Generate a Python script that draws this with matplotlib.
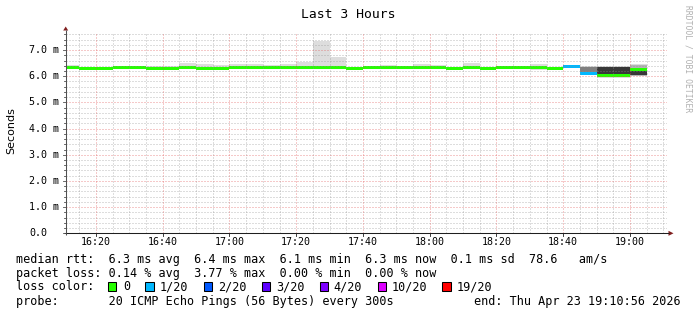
import matplotlib
matplotlib.use('Agg')
import matplotlib.pyplot as plt
import numpy as np
from matplotlib.patches import Rectangle, Polygon

# ---------------- data ----------------
bin_start = ["16:10", "16:15", "16:20", "16:25", "16:30", "16:35", "16:40", "16:45",
             "16:50", "16:55", "17:00", "17:05", "17:10", "17:15", "17:20", "17:25",
             "17:30", "17:35", "17:40", "17:45", "17:50", "17:55", "18:00", "18:05",
             "18:10", "18:15", "18:20", "18:25", "18:30", "18:35", "18:40", "18:45",
             "18:50", "18:55", "19:00"]
median_ms = [6.35, 6.31, 6.31, 6.35, 6.35, 6.31, 6.31, 6.35, 6.31, 6.31,
             6.35, 6.35, 6.35, 6.35, 6.35, 6.35, 6.35, 6.31, 6.35, 6.35,
             6.35, 6.35, 6.35, 6.31, 6.35, 6.31, 6.35, 6.35, 6.35, 6.31,
             6.36, 6.10, 6.04, 6.03, 6.27]
loss_pings = [0, 0, 0, 0, 0, 0, 0, 0, 0, 0,
              0, 0, 0, 0, 0, 0, 0, 0, 0, 0,
              0, 0, 0, 0, 0, 0, 0, 0, 0, 0,
              1, 1, 0, 0, 0]
smoke_lo = [6.32, 6.28, 6.28, 6.32, 6.32, 6.28, 6.28, 6.32, 6.28, 6.28,
            6.32, 6.32, 6.32, 6.32, 6.32, 6.32, 6.32, 6.28, 6.32, 6.32,
            6.32, 6.32, 6.32, 6.28, 6.32, 6.28, 6.32, 6.32, 6.23, 6.28,
            6.33, 6.03, 5.95, 5.95, 5.99]
smoke_hi = [6.41, 6.34, 6.34, 6.38, 6.38, 6.40, 6.40, 6.51, 6.45, 6.44,
            6.47, 6.46, 6.42, 6.48, 6.53, 7.36, 6.75, 6.34, 6.38, 6.43,
            6.38, 6.47, 6.43, 6.34, 6.51, 6.34, 6.38, 6.38, 6.48, 6.34,
            6.38, 6.38, 6.39, 6.39, 6.46]
mid_lo = [np.nan] * 31 + [6.08, np.nan, np.nan, 6.02]
mid_hi = [np.nan] * 31 + [6.35, np.nan, np.nan, 6.42]
inner_lo = [np.nan] * 32 + [6.00, 6.00, 6.04]
inner_hi = [np.nan] * 32 + [6.35, 6.35, 6.30]

loss_labels = ["0", "1/20", "2/20", "3/20", "4/20", "10/20", "19/20"]
loss_thresh = [0, 1, 2, 3, 4, 10, 19]
loss_colors = ["#26ff00", "#00b8ff", "#0059ff", "#5e00ff", "#7e00ff", "#dd00ff", "#ff0000"]

x_tick_labels = ["16:20", "16:40", "17:00", "17:20", "17:40", "18:00", "18:20", "18:40", "19:00"]
y_ticks = [0, 1, 2, 3, 4, 5, 6, 7]
y_tick_labels = ["0.0", "1.0 m", "2.0 m", "3.0 m", "4.0 m", "5.0 m", "6.0 m", "7.0 m"]

t_start = "16:10:56"
t_end = "19:10:56"

row_median = "median rtt:  6.3 ms avg  6.4 ms max  6.1 ms min  6.3 ms now  0.1 ms sd  78.6   am/s"
row_loss = "packet loss: 0.14 % avg  3.77 % max  0.00 % min  0.00 % now"
row_probe = "probe:       20 ICMP Echo Pings (56 Bytes) every 300s"
row_end = "end: Thu Apr 23 19:10:56 2026"
title = "Last 3 Hours"
ylabel = "Seconds"
watermark = "RRDTOOL / TOBI OETIKER"

# ---------------- helpers ----------------
def tmin(s):
    p = [int(v) for v in s.split(":")]
    sec = p[2] if len(p) > 2 else 0
    return p[0] * 60 + p[1] + sec / 60.0 - 16 * 60

W, H, DPI = 697, 315, 100
MONO = "DejaVu Sans Mono"

fig = plt.figure(figsize=(W / DPI, H / DPI), dpi=DPI, facecolor="white")
L, R, T, B = 65.7, 666.5, 33.3, 233.3
ax = fig.add_axes([L / W, (H - B) / H, (R - L) / W, (B - T) / H])
ax.set_facecolor("white")
x0, x1 = tmin(t_start), tmin(t_end)
ymax = 7.64
ax.set_xlim(x0, x1)
ax.set_ylim(0, ymax)
for s in ax.spines.values():
    s.set_visible(False)
ax.set_xticks([])
ax.set_yticks([])

xs = np.array([tmin(s) for s in bin_start])
med = np.array(median_ms)
lo = np.array(smoke_lo)
hi = np.array(smoke_hi)

# smoke
ax.bar(xs, hi - lo, bottom=lo, width=5, align="edge", color="#dddddd", linewidth=0, zorder=1)
mlo, mhi = np.array(mid_lo), np.array(mid_hi)
ok = ~np.isnan(mlo)
ax.bar(xs[ok], (mhi - mlo)[ok], bottom=mlo[ok], width=5, align="edge",
       color=["#808080", "#b4b4b4"], linewidth=0, zorder=1.2)
ilo, ihi = np.array(inner_lo), np.array(inner_hi)
ok = ~np.isnan(ilo)
ax.bar(xs[ok], (ihi - ilo)[ok], bottom=ilo[ok], width=5, align="edge",
       color="#383838", linewidth=0, zorder=1.4)

# median band coloured by loss
sw = 0.055
cols = []
for lp in loss_pings:
    c = loss_colors[0]
    for th, cc in zip(loss_thresh, loss_colors):
        if lp >= th:
            c = cc
    cols.append(c)
ax.bar(xs, 2 * sw, bottom=med - sw, width=5, align="edge", color=cols, linewidth=0, zorder=2)

# grid (drawn on top, like rrdtool)
minor_c = (0.56, 0.56, 0.56, 0.6)
major_c = (0.87, 0.31, 0.31, 0.6)
dash = (0, (1.0, 2.0))
for k in range(1, int(ymax / 0.2) + 1):
    v = k * 0.2
    if abs(v - round(v)) < 1e-6:
        continue
    ax.axhline(v, color=minor_c, lw=0.72, ls=dash, zorder=3)
for v in y_ticks[1:]:
    ax.axhline(v, color=major_c, lw=0.72, ls=dash, zorder=3.1)
t = 16 * 60 + 15 - 16 * 60
while t < x1:
    if t > x0:
        if t % 20 == 0:
            ax.axvline(t, color=major_c, lw=0.72, ls=dash, zorder=3.1)
        else:
            ax.axvline(t, color=minor_c, lw=0.72, ls=dash, zorder=3)
    t += 5

# ---------------- overlay in pixel coords ----------------
ov = fig.add_axes([0, 0, 1, 1], zorder=10)
ov.set_xlim(0, W)
ov.set_ylim(H, 0)
ov.axis("off")
ov.patch.set_alpha(0)

def ypix(v):
    return B - v / ymax * (B - T)

def xpix(tm):
    return L + (tm - x0) / (x1 - x0) * (R - L)

axis_c = "#1f1f1f"
arrow_c = "#801f1f"
# axes lines
ov.plot([L, L], [B + 2, 29.5], color="#505050", lw=0.75, solid_capstyle="butt")
ov.plot([L - 2, 669], [B, B], color=axis_c, lw=0.75, solid_capstyle="butt")
ov.add_patch(Polygon([[L - 2.5, 30.5], [L + 2.5, 30.5], [L, 26.5]], closed=True, color=arrow_c, lw=0))
ov.add_patch(Polygon([[668.5, B - 2.5], [668.5, B + 2.5], [673.5, B]], closed=True, color=arrow_c, lw=0))

# y ticks marks + labels
for k in range(0, int(ymax / 0.2) + 1):
    v = k * 0.2
    yp = ypix(v)
    major = abs(v - round(v)) < 1e-6
    ov.plot([L - (3 if major else 2), L], [yp, yp], color="#505050", lw=0.6)
for v, lab in zip(y_ticks, y_tick_labels):
    ov.text(29.3, ypix(v), lab, family=MONO, fontsize=7.2, ha="left", va="center", color="black")

# x tick labels
for lab in x_tick_labels:
    xp = xpix(tmin(lab))
    ov.plot([xp, xp], [B, B + 2.5], color=axis_c, lw=0.6)
    ov.text(xp, 242, lab, family=MONO, fontsize=7.2, ha="center", va="center", color="black")

# title, ylabel, watermark
ov.text(348, 14, title, family=MONO, fontsize=9.4, ha="center", va="center", color="black")
ov.text(11, 131, ylabel, family="DejaVu Sans", fontsize=8, rotation=90, ha="center", va="center", color="black")
ov.text(688, 5, watermark, family=MONO, fontsize=5.8, rotation=270, ha="center", va="top", color="#b0b0b0")

# legend rows
fs = 8.5
ov.text(16, 259, row_median, family=MONO, fontsize=fs, ha="left", va="center", color="black")
ov.text(16, 273, row_loss, family=MONO, fontsize=fs, ha="left", va="center", color="black")
ov.text(16, 287, "loss color:", family=MONO, fontsize=fs, ha="left", va="center", color="black")
box_x = [108, 145.3, 204, 261.8, 319.6, 377.8, 442.2]
lab_x = [123.1, 160, 217.8, 276, 333.8, 392, 456.9]
for bx, lx, lab, c in zip(box_x, lab_x, loss_labels, loss_colors):
    ov.add_patch(Rectangle((bx, 282), 8.4, 9.3, facecolor=c, edgecolor="black", lw=0.75))
    ov.text(lx, 287, lab, family=MONO, fontsize=fs, ha="left", va="center", color="black")
ov.text(16, 301, row_probe, family=MONO, fontsize=fs, ha="left", va="center", color="black")
ov.text(681, 301, row_end, family=MONO, fontsize=fs, ha="right", va="center", color="black")

fig.savefig("out.png", dpi=DPI, facecolor="white")
